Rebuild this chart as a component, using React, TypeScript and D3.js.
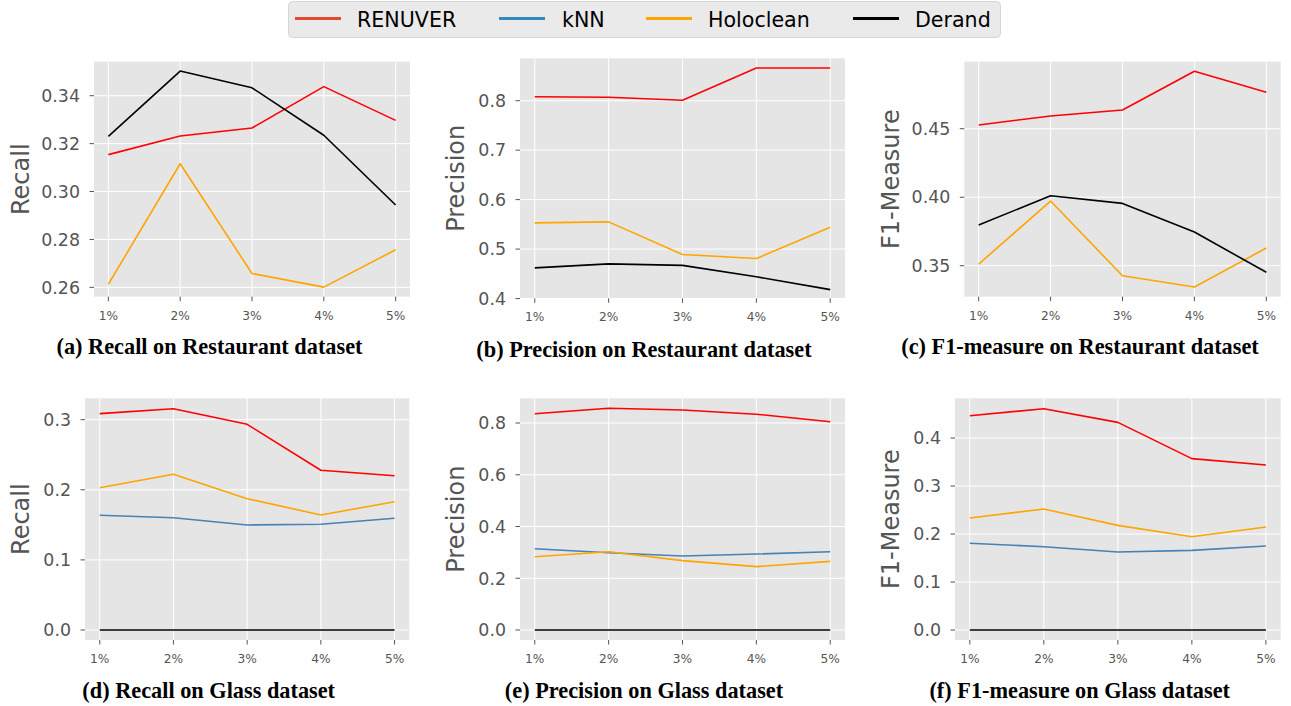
import React from 'react';
import * as d3 from 'd3';

// ---------- data ----------
const categories = ['1%', '2%', '3%', '4%', '5%'];
const methods = ['RENUVER', 'kNN', 'Holoclean', 'Derand'];

const restRecallRenuver = [0.3154, 0.3232, 0.3265, 0.3438, 0.3297];
const restRecallHoloclean = [0.2613, 0.3116, 0.2658, 0.2601, 0.2757];
const restRecallDerand = [0.3230, 0.3503, 0.3433, 0.3235, 0.2944];

const restPrecRenuver = [0.808, 0.807, 0.801, 0.866, 0.866];
const restPrecHoloclean = [0.553, 0.555, 0.489, 0.481, 0.544];
const restPrecDerand = [0.462, 0.470, 0.467, 0.444, 0.418];

const restF1Renuver = [0.4527, 0.4593, 0.4637, 0.4919, 0.4766];
const restF1Holoclean = [0.3512, 0.3972, 0.3427, 0.3345, 0.3629];
const restF1Derand = [0.3797, 0.4011, 0.3955, 0.3746, 0.3452];

const glassRecallRenuver = [0.3086, 0.3157, 0.2934, 0.2278, 0.2201];
const glassRecallKnn = [0.1636, 0.1602, 0.1498, 0.1508, 0.1593];
const glassRecallHoloclean = [0.2030, 0.2221, 0.1873, 0.1641, 0.1830];
const glassRecallDerand = [0, 0, 0, 0, 0];

const glassPrecRenuver = [0.836, 0.857, 0.850, 0.834, 0.805];
const glassPrecKnn = [0.3143, 0.2988, 0.286, 0.2937, 0.3027];
const glassPrecHoloclean = [0.2834, 0.3027, 0.268, 0.2448, 0.2654];
const glassPrecDerand = [0, 0, 0, 0, 0];

const glassF1Renuver = [0.4465, 0.461, 0.4326, 0.357, 0.3437];
const glassF1Knn = [0.1806, 0.1736, 0.1625, 0.166, 0.175];
const glassF1Holoclean = [0.2333, 0.252, 0.218, 0.1944, 0.2146];
const glassF1Derand = [0, 0, 0, 0, 0];

const ticksA = [0.26, 0.28, 0.30, 0.32, 0.34];
const ticksB = [0.4, 0.5, 0.6, 0.7, 0.8];
const ticksC = [0.35, 0.40, 0.45];
const ticksD = [0.0, 0.1, 0.2, 0.3];
const ticksE = [0.0, 0.2, 0.4, 0.6, 0.8];
const ticksF = [0.0, 0.1, 0.2, 0.3, 0.4];

const limA = [0.2561, 0.3542];
const limB = [0.4005, 0.8857];
const limC = [0.3274, 0.4989];
const limD = [-0.0143, 0.3305];
const limE = [-0.0386, 0.8955];
const limF = [-0.0208, 0.4827];

const captions = [
  '(a) Recall on Restaurant dataset',
  '(b) Precision on Restaurant dataset',
  '(c) F1-measure on Restaurant dataset',
  '(d) Recall on Glass dataset',
  '(e) Precision on Glass dataset',
  '(f) F1-measure on Glass dataset',
];
const yLabels = ['Recall', 'Precision', 'F1-Measure', 'Recall', 'Precision', 'F1-Measure'];

// ---------- styles ----------
const lineColors: Record<string, string> = {
  RENUVER: '#ff0000',
  kNN: '#4682b4',
  Holoclean: '#ffa500',
  Derand: '#000000',
};
const legendColors: Record<string, string> = {
  RENUVER: '#E24A33',
  kNN: '#348ABD',
  Holoclean: '#FFA500',
  Derand: '#000000',
};

type Series = { name: string; values: number[] };
type Panel = {
  box: { l: number; r: number; t: number; b: number };
  lim: number[];
  ticks: number[];
  fmt: string;
  series: Series[];
  caption: string;
  yLabel: string;
  yLabelX: number;
  capX: number;
  capY: number;
};

const panels: Panel[] = [
  {
    box: { l: 94, r: 410, t: 61.7, b: 296.7 }, lim: limA, ticks: ticksA, fmt: '.2f',
    series: [
      { name: 'RENUVER', values: restRecallRenuver },
      { name: 'Holoclean', values: restRecallHoloclean },
      { name: 'Derand', values: restRecallDerand },
    ],
    caption: captions[0], yLabel: yLabels[0], yLabelX: 28.5, capX: 209.5, capY: 354,
  },
  {
    box: { l: 520, r: 845, t: 58.3, b: 298.3 }, lim: limB, ticks: ticksB, fmt: '.1f',
    series: [
      { name: 'RENUVER', values: restPrecRenuver },
      { name: 'Holoclean', values: restPrecHoloclean },
      { name: 'Derand', values: restPrecDerand },
    ],
    caption: captions[1], yLabel: yLabels[1], yLabelX: 464, capX: 644, capY: 357,
  },
  {
    box: { l: 964.3, r: 1280.7, t: 61.7, b: 296.7 }, lim: limC, ticks: ticksC, fmt: '.2f',
    series: [
      { name: 'RENUVER', values: restF1Renuver },
      { name: 'Holoclean', values: restF1Holoclean },
      { name: 'Derand', values: restF1Derand },
    ],
    caption: captions[2], yLabel: yLabels[2], yLabelX: 899, capX: 1080, capY: 354,
  },
  {
    box: { l: 85, r: 409.3, t: 398.3, b: 640 }, lim: limD, ticks: ticksD, fmt: '.1f',
    series: [
      { name: 'RENUVER', values: glassRecallRenuver },
      { name: 'kNN', values: glassRecallKnn },
      { name: 'Holoclean', values: glassRecallHoloclean },
      { name: 'Derand', values: glassRecallDerand },
    ],
    caption: captions[3], yLabel: yLabels[3], yLabelX: 29, capX: 208.7, capY: 698,
  },
  {
    box: { l: 520, r: 845, t: 398.3, b: 640 }, lim: limE, ticks: ticksE, fmt: '.1f',
    series: [
      { name: 'RENUVER', values: glassPrecRenuver },
      { name: 'kNN', values: glassPrecKnn },
      { name: 'Holoclean', values: glassPrecHoloclean },
      { name: 'Derand', values: glassPrecDerand },
    ],
    caption: captions[4], yLabel: yLabels[4], yLabelX: 464, capX: 644, capY: 698,
  },
  {
    box: { l: 955, r: 1280.7, t: 398.3, b: 640 }, lim: limF, ticks: ticksF, fmt: '.1f',
    series: [
      { name: 'RENUVER', values: glassF1Renuver },
      { name: 'kNN', values: glassF1Knn },
      { name: 'Holoclean', values: glassF1Holoclean },
      { name: 'Derand', values: glassF1Derand },
    ],
    caption: captions[5], yLabel: yLabels[5], yLabelX: 899, capX: 1079.7, capY: 698,
  },
];

const SANS = '"DejaVu Sans", sans-serif';
const SERIF = '"Liberation Serif", "Times New Roman", serif';
const TICK = '#555555';

function PanelView({ p }: { p: Panel }) {
  const { l, r, t, b } = p.box;
  const x = d3.scaleLinear().domain([-0.2, categories.length - 1 + 0.2]).range([l, r]);
  const y = d3.scaleLinear().domain(p.lim).range([b, t]);
  const fmt = d3.format(p.fmt);
  const line = d3
    .line<number>()
    .x((_, i) => x(i))
    .y((v) => y(v));
  return (
    <g>
      <rect x={l} y={t} width={r - l} height={b - t} fill="#E5E5E5" />
      {categories.map((c, i) => (
        <line key={'vx' + c} x1={x(i)} x2={x(i)} y1={t} y2={b} stroke="#fff" strokeWidth={1} />
      ))}
      {p.ticks.map((v) => (
        <line key={'hy' + v} x1={l} x2={r} y1={y(v)} y2={y(v)} stroke="#fff" strokeWidth={1} />
      ))}
      {p.series.map((s) => (
        <path
          key={s.name}
          d={line(s.values) || ''}
          fill="none"
          stroke={lineColors[s.name]}
          strokeWidth={1.6}
          strokeLinejoin="round"
        />
      ))}
      {p.ticks.map((v) => (
        <g key={'ty' + v}>
          <line x1={l - 4.5} x2={l} y1={y(v)} y2={y(v)} stroke={TICK} strokeWidth={1} />
          <text
            x={l - 14}
            y={y(v)}
            dy="0.36em"
            textAnchor="end"
            fontFamily={SANS}
            fontSize={17.4}
            fill={TICK}
          >
            {fmt(v)}
          </text>
        </g>
      ))}
      {categories.map((c, i) => (
        <g key={'tx' + c}>
          <line x1={x(i)} x2={x(i)} y1={b} y2={b + 4.5} stroke={TICK} strokeWidth={1} />
          <text
            x={x(i)}
            y={b + 23}
            textAnchor="middle"
            fontFamily={SANS}
            fontSize={12.2}
            fill={TICK}
          >
            {c}
          </text>
        </g>
      ))}
      <text
        transform={`translate(${p.yLabelX},${(t + b) / 2}) rotate(-90)`}
        textAnchor="middle"
        fontFamily={SANS}
        fontSize={24}
        fill={TICK}
      >
        {p.yLabel}
      </text>
      <text
        x={p.capX}
        y={p.capY}
        textAnchor="middle"
        fontFamily={SERIF}
        fontWeight="bold"
        fontSize={22.3}
        fill="#000"
      >
        {p.caption}
      </text>
    </g>
  );
}

const legendHandleX = [295, 499, 646, 853];
const legendTextX = [357, 562, 708, 915];

function Legend() {
  return (
    <g>
      <rect x={288.5} y={1.5} width={712} height={36} rx={4} ry={4} fill="#eaeaea" stroke="#d6d6d6" strokeWidth={1} />
      {methods.map((m, i) => (
        <g key={m}>
          <line
            x1={legendHandleX[i]}
            x2={legendHandleX[i] + 46}
            y1={18.5}
            y2={18.5}
            stroke={legendColors[m]}
            strokeWidth={3}
          />
          <text x={legendTextX[i]} y={27} fontFamily={SANS} fontSize={20.6} fill="#000">
            {m}
          </text>
        </g>
      ))}
    </g>
  );
}

export default function App() {
  return (
    <svg
      width={1291}
      height={706}
      style={{ position: 'absolute', left: 0, top: 0, background: '#fff' }}
    >
      <rect x={0} y={0} width={1291} height={706} fill="#fff" />
      {panels.map((p, i) => (
        <PanelView key={i} p={p} />
      ))}
      <Legend />
    </svg>
  );
}
